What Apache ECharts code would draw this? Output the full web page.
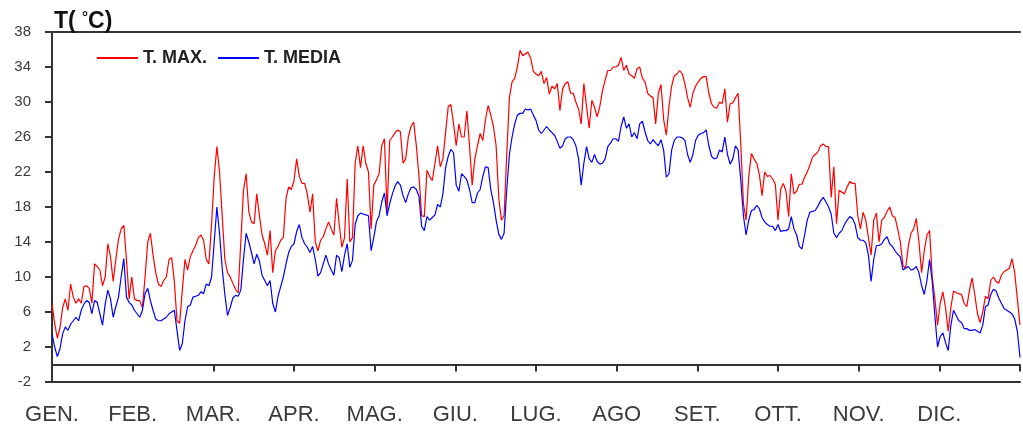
<!DOCTYPE html>
<html>
<head>
<meta charset="utf-8">
<script src="https://cdn.jsdelivr.net/npm/echarts@6/dist/echarts.min.js"></script>
<style>html,body{margin:0;padding:0;background:#fff;}#c{width:1023px;height:434px;}</style>
</head>
<body>
<div id="c"></div>
<script>
const months = ['GEN.','FEB.','MAR.','APR.','MAG.','GIU.','LUG.','AGO','SET.','OTT.','NOV.','DIC.',''];
const yTicks = {min: -2, max: 38, step: 4};
const seriesNames = ['T. MAX.', 'T. MEDIA'];

// daily maximum temperature (day 1 .. 365)
const tMax = [
 6.9,4.7,3.0,4.2,6.5,7.5,6.2,9.2,7.7,7.0,
 7.5,7.0,8.9,9.0,8.7,7.0,11.5,11.2,10.8,9.0,
 10.0,13.8,12.3,9.5,12.0,14.3,15.5,15.9,12.0,7.5,
 10.0,7.5,7.3,7.3,6.5,10.0,14.0,15.0,12.5,10.5,
 9.2,8.9,9.6,10.0,12.0,12.2,9.5,5.0,4.7,8.5,
 12.0,10.8,12.3,13.0,13.6,14.5,14.8,14.2,12.0,11.5,
 16.0,21.5,24.9,22.0,17.0,12.0,10.5,10.0,9.3,8.6,
 8.2,14.0,19.9,21.8,17.5,16.3,16.1,19.5,17.0,14.8,
 13.8,12.5,15.3,10.5,13.0,13.5,14.2,14.5,19.0,20.3,
 20.0,21.0,23.5,21.5,20.7,20.7,19.5,17.4,19.5,14.0,
 13.0,14.2,14.6,15.5,16.3,15.5,14.8,19.0,16.0,13.4,
 14.5,21.2,14.0,14.5,23.0,25.0,22.5,25.0,23.0,22.0,
 15.5,20.5,21.1,21.8,25.0,25.8,17.5,25.6,26.0,26.5,
 26.8,26.6,23.0,23.5,26.0,27.2,27.7,25.0,21.5,17.0,
 16.9,22.2,21.5,21.0,23.0,25.0,22.6,23.5,26.5,29.5,
 29.7,27.5,25.0,27.5,26.0,26.0,29.0,25.0,20.5,23.5,
 25.0,26.4,25.6,28.0,29.6,28.5,27.2,25.0,19.0,16.5,
 17.0,24.0,30.5,32.3,32.7,34.0,35.9,35.3,35.5,35.7,
 35.0,33.5,33.2,33.0,33.5,32.1,32.8,30.9,31.8,31.5,
 32.1,29.0,31.5,32.1,32.3,31.0,31.0,30.0,29.2,27.5,
 32.1,29.5,27.0,30.2,29.4,28.3,29.5,31.3,32.5,33.6,
 33.6,34.0,34.0,34.2,35.1,33.6,34.2,33.2,33.0,32.7,
 33.8,34.0,32.7,32.3,31.0,30.7,30.5,27.5,31.0,32.0,
 28.0,26.2,29.5,31.8,33.0,33.2,33.6,33.2,32.1,30.5,
 29.4,31.0,31.8,32.3,32.7,32.9,32.9,31.0,29.8,29.4,
 29.3,30.0,29.8,31.5,27.7,29.8,29.9,30.5,31.0,25.2,
 18.4,16.5,21.5,24.1,23.5,23.0,21.7,19.3,22.0,21.5,
 21.6,21.2,20.6,16.5,20.0,20.7,19.8,16.9,21.8,19.5,
 19.8,20.6,20.6,21.4,22.0,22.8,23.7,24.0,24.3,25.0,
 25.2,24.9,24.9,19.1,22.6,16.1,19.9,19.7,19.5,20.3,
 20.9,20.7,20.7,17.0,15.5,17.4,16.5,14.5,12.5,16.5,
 17.3,14.0,16.5,16.8,17.5,18.0,17.0,16.8,15.5,14.0,
 11.3,11.0,13.5,15.0,15.5,16.7,14.0,10.5,13.0,14.8,
 15.3,10.0,7.5,4.5,7.0,8.3,6.5,3.8,6.5,8.4,
 8.2,8.1,8.0,7.0,6.6,8.5,9.9,8.0,5.8,4.8,
 6.0,7.8,7.5,9.6,10.0,9.5,9.3,10.2,10.6,10.8,
 11.0,12.1,10.5,7.5,4.5
];

// daily mean temperature (day 1 .. 365)
const tMedia = [
 3.5,2.0,0.9,1.8,3.5,4.3,3.9,4.6,5.0,5.4,
 5.0,6.2,6.9,7.3,7.1,5.8,7.3,7.1,5.8,4.5,
 6.9,8.5,7.5,5.4,6.6,7.7,10.0,12.1,7.7,7.1,
 6.8,6.2,5.8,5.4,6.2,8.1,8.7,7.3,6.2,5.2,
 5.0,5.0,5.2,5.4,5.8,6.0,6.2,3.9,1.6,2.4,
 5.0,6.6,6.8,7.7,7.8,7.9,8.3,8.1,9.2,9.0,
 10.0,14.0,18.0,15.0,11.0,8.0,5.6,6.5,7.6,7.9,
 7.8,8.5,12.0,15.0,14.0,12.8,11.5,12.6,11.8,10.2,
 9.6,9.0,9.6,7.0,6.0,7.8,8.9,10.0,11.5,12.8,
 13.5,13.8,15.2,16.0,14.5,13.8,13.4,12.8,13.5,12.0,
 10.1,10.5,11.5,12.5,11.5,10.8,10.2,12.5,12.2,10.6,
 12.5,13.8,11.1,11.9,16.0,17.0,17.3,17.2,17.1,17.0,
 13.0,14.5,16.3,17.0,18.6,19.6,17.0,18.4,19.5,20.4,
 20.9,20.5,19.3,18.5,19.5,20.2,20.3,20.0,19.2,15.8,
 15.3,16.9,16.5,16.8,17.1,18.3,18.0,19.5,22.5,23.8,
 24.6,24.2,20.5,19.8,21.8,21.5,21.1,20.0,18.5,18.5,
 19.6,20.0,21.5,22.6,22.5,20.0,18.5,16.5,14.9,14.3,
 15.0,20.0,24.0,26.0,27.5,28.5,28.7,28.7,29.2,29.1,
 29.2,28.5,27.9,26.8,26.4,26.8,27.2,26.8,26.5,26.2,
 25.5,24.7,25.0,25.8,26.0,26.0,25.7,25.0,23.5,20.5,
 23.0,24.9,23.5,23.1,24.0,23.2,22.9,23.0,23.5,24.9,
 25.3,25.8,25.8,25.5,27.2,28.3,27.0,27.5,26.0,26.5,
 25.8,27.5,27.8,26.6,25.6,25.2,25.7,25.3,25.0,25.7,
 24.5,21.4,21.8,24.5,25.6,26.0,26.0,25.9,25.6,24.0,
 23.1,24.0,25.6,26.2,26.4,26.5,26.8,25.0,23.8,23.5,
 23.6,24.5,24.3,26.0,24.0,22.9,23.5,25.0,24.5,21.1,
 17.0,14.8,16.5,17.6,17.7,18.2,17.8,16.8,16.3,16.0,
 15.8,15.8,15.3,16.0,15.2,15.3,15.3,15.5,16.9,15.5,
 14.8,13.5,13.2,14.8,16.5,17.4,17.5,17.6,18.1,18.7,
 19.1,18.6,18.0,17.2,15.0,14.5,15.0,15.3,16.0,16.5,
 16.9,16.7,16.0,14.5,14.2,14.2,13.9,12.5,9.5,12.0,
 13.6,13.6,13.8,14.3,14.6,13.8,13.5,13.0,12.6,12.3,
 10.8,11.0,11.2,10.8,10.9,11.2,10.5,9.0,8.0,9.6,
 12.0,9.5,5.5,2.0,3.2,3.6,2.5,1.6,4.5,6.2,
 5.6,5.0,4.8,4.1,4.1,3.9,3.9,4.0,3.8,3.6,
 4.5,6.6,6.8,8.0,8.6,8.4,7.6,7.0,6.4,6.2,
 6.0,5.8,5.2,3.8,0.8
];

const lastDay = tMax.length - 1;
const chart = echarts.init(document.getElementById('c'), null, {renderer: 'canvas'});
const axisColor = '#333';
const textColor = '#3a3a3a';
const font = 'Liberation Sans, Arial, sans-serif';

chart.setOption({
  animation: false,
  backgroundColor: '#fff',
  title: {
    text: 'T( {d|°}C)',
    left: 49, top: 5,
    textStyle: {fontFamily: font, fontSize: 23, fontWeight: 'bold', color: '#111',
      rich: {d: {fontFamily: font, fontSize: 15, fontWeight: 'bold', color: '#111', verticalAlign: 'top', padding: [0,0,6,0]}}}
  },
  legend: {
    left: 92, top: 44,
    itemWidth: 41, itemHeight: 2, itemGap: 11,
    icon: 'rect',
    textStyle: {fontFamily: font, fontSize: 18, fontWeight: 'bold', color: '#222'},
    data: seriesNames
  },
  grid: {left: 52, right: 3, top: 32, bottom: 52, outerBoundsMode: 'none', containLabel: false},
  xAxis: [
    {
      type: 'category', data: months, boundaryGap: false, position: 'bottom',
      axisLine: {onZero: true, lineStyle: {color: axisColor, width: 2}},
      axisTick: {show: true, length: 7, alignWithLabel: true, lineStyle: {color: axisColor, width: 2}},
      axisLabel: {margin: 22, fontFamily: font, fontSize: 22, color: textColor, interval: 0},
      splitLine: {show: false}
    },
    {
      type: 'value', min: 0, max: lastDay, position: 'bottom',
      axisLine: {show: true, onZero: false, lineStyle: {color: axisColor, width: 2}},
      axisTick: {show: false}, axisLabel: {show: false}, splitLine: {show: false}
    },
    {
      type: 'value', min: 0, max: lastDay, position: 'top',
      axisLine: {show: true, onZero: false, lineStyle: {color: axisColor, width: 2}},
      axisTick: {show: false}, axisLabel: {show: false}, splitLine: {show: false}
    }
  ],
  yAxis: {
    type: 'value', min: yTicks.min, max: yTicks.max, interval: yTicks.step,
    axisLine: {show: true, onZero: false, lineStyle: {color: axisColor, width: 2}},
    axisTick: {show: true, length: 7, lineStyle: {color: axisColor, width: 2}},
    axisLabel: {margin: 21, fontFamily: font, fontSize: 15, color: textColor},
    splitLine: {show: false}
  },
  series: [
    {
      name: seriesNames[0], type: 'line', xAxisIndex: 1, symbol: 'none',
      data: tMax.map((v, i) => [i, v]),
      lineStyle: {color: '#ff0000', width: 1.2}, itemStyle: {color: '#ff0000'}
    },
    {
      name: seriesNames[1], type: 'line', xAxisIndex: 1, symbol: 'none',
      data: tMedia.map((v, i) => [i, v]),
      lineStyle: {color: '#0000ff', width: 1.2}, itemStyle: {color: '#0000ff'}
    }
  ]
});
</script>
</body>
</html>
